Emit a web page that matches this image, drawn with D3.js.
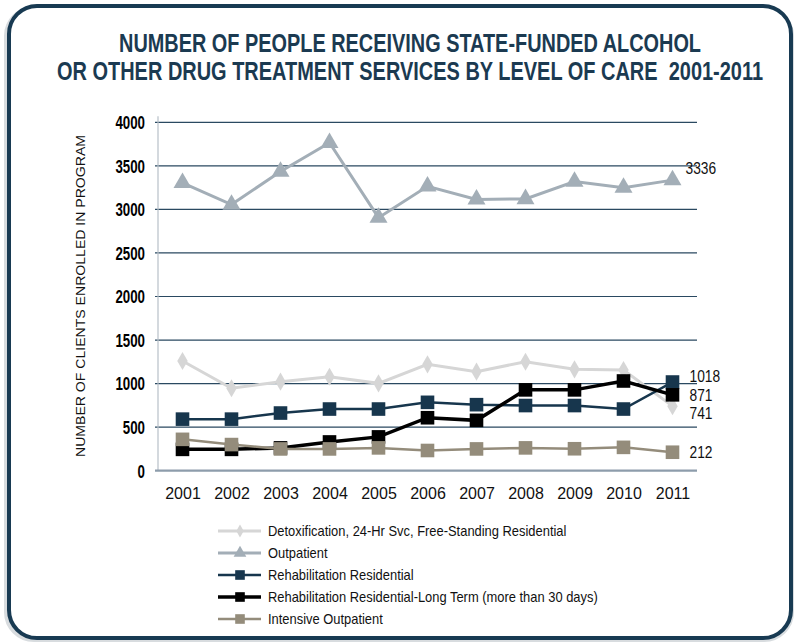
<!DOCTYPE html>
<html>
<head>
<meta charset="utf-8">
<script src="https://cdn.jsdelivr.net/npm/d3@7/dist/d3.min.js"></script>
<style>
  html, body { margin: 0; padding: 0; background: #ffffff; }
  svg { display: block; }
</style>
</head>
<body>
<svg id="chart" width="794" height="642"></svg>
<script>
// ---------------- DATA ----------------
const years = [2001, 2002, 2003, 2004, 2005, 2006, 2007, 2008, 2009, 2010, 2011];
const detox      = [1260, 946, 1022, 1079, 1003, 1221, 1137, 1251, 1164, 1156, 741];
const outpatient = [3305, 3055, 3435, 3765, 2905, 3265, 3115, 3120, 3320, 3250, 3336];
const rehabRes   = [592, 592, 662, 708, 708, 785, 758, 748, 748, 708, 1018];
const rehabLong  = [245, 245, 262, 330, 388, 608, 578, 928, 928, 1030, 871];
const intensive  = [360, 300, 250, 250, 262, 232, 250, 262, 252, 268, 212];
const yTicks = [0, 500, 1000, 1500, 2000, 2500, 3000, 3500, 4000];
const seriesNames = [
  "Detoxification, 24-Hr Svc, Free-Standing Residential",
  "Outpatient",
  "Rehabilitation Residential",
  "Rehabilitation Residential-Long Term (more than 30 days)",
  "Intensive Outpatient"
];
const titleLines = [
  "NUMBER OF PEOPLE RECEIVING STATE-FUNDED ALCOHOL",
  "OR OTHER DRUG TREATMENT SERVICES BY LEVEL OF CARE  2001-2011"
];
const yTitle = "NUMBER OF CLIENTS ENROLLED IN PROGRAM";

// ---------------- STYLE ----------------
const series = [
  { name: seriesNames[0], values: detox,      color: "#d6d6d6", width: 3,   symbol: d3.symbolDiamond,  size: 95,  label: 741,  dy: 13, dx: 17 },
  { name: seriesNames[1], values: outpatient, color: "#a3aeb7", width: 3,   symbol: d3.symbolTriangle, size: 140, label: 3336, dy: -6, dx: 13 },
  { name: seriesNames[2], values: rehabRes,   color: "#17364d", width: 2.5, symbol: d3.symbolSquare,   size: 185, label: 1018, dy: 0,  dx: 17 },
  { name: seriesNames[3], values: rehabLong,  color: "#000000", width: 3.5, symbol: d3.symbolSquare,   size: 185, label: 871,  dy: 6,  dx: 17 },
  { name: seriesNames[4], values: intensive,  color: "#948c7b", width: 2.5, symbol: d3.symbolSquare,   size: 185, label: 212,  dy: 6,  dx: 17 }
];

const svg = d3.select("#chart");
const FONT = "'Liberation Sans', Arial, sans-serif";

// narrow helper: compress text horizontally to emulate a condensed face
function narrow(sel, factor) {
  sel.each(function () {
    const w = this.getComputedTextLength();
    d3.select(this).attr("textLength", w * factor).attr("lengthAdjust", "spacingAndGlyphs");
  });
}

// ---------------- FRAME ----------------
svg.append("rect")
  .attr("x", 6).attr("y", 8).attr("width", 786).attr("height", 632)
  .attr("rx", 28).attr("ry", 28)
  .attr("fill", "none").attr("stroke", "#d8dcdf").attr("stroke-width", 4);
svg.append("rect")
  .attr("x", 9).attr("y", 6).attr("width", 782).attr("height", 632)
  .attr("rx", 28).attr("ry", 28)
  .attr("fill", "#ffffff").attr("stroke", "#183a52").attr("stroke-width", 4);

// ---------------- TITLE ----------------
const titleWidths = [582, 706];
const titleY = [52, 80];
titleLines.forEach((t, i) => {
  svg.append("text")
    .attr("transform", `translate(410,${titleY[i]}) scale(1,1.42)`)
    .attr("text-anchor", "middle")
    .style("white-space", "pre")
    .attr("font-family", FONT).attr("font-weight", "bold").attr("font-size", 18.5)
    .attr("fill", "#1b3a51")
    .attr("textLength", titleWidths[i]).attr("lengthAdjust", "spacingAndGlyphs")
    .text(t);
});

// ---------------- SCALES ----------------
const plot = { left: 158, right: 697, top: 122.3, bottom: 470.7 };
const x = d3.scalePoint().domain(years).range([plot.left, plot.right]).padding(0.5);
const y = d3.scaleLinear().domain([0, 4000]).range([plot.bottom, plot.top]);

// gridlines
svg.append("g")
  .selectAll("line")
  .data(yTicks.filter(d => d > 0))
  .join("line")
  .attr("x1", plot.left - 3).attr("x2", plot.right)
  .attr("y1", d => y(d)).attr("y2", d => y(d))
  .attr("stroke", "#2a4961").attr("stroke-width", 1.2);

// y axis line
svg.append("line")
  .attr("x1", plot.left).attr("x2", plot.left)
  .attr("y1", plot.top - 6).attr("y2", plot.bottom)
  .attr("stroke", "#b7c0c8").attr("stroke-width", 1.2);

// zero line
svg.append("line")
  .attr("x1", plot.left - 3).attr("x2", plot.right)
  .attr("y1", y(0)).attr("y2", y(0))
  .attr("stroke", "#8d9cab").attr("stroke-width", 2.2);

// y axis tick labels
const yAxis = d3.axisLeft(y).tickValues(yTicks).tickSize(0).tickPadding(13).tickFormat(d3.format("d"));
const yg = svg.append("g").attr("transform", `translate(${plot.left},0)`).call(yAxis);
yg.select(".domain").remove();
yg.selectAll("text")
  .attr("font-family", FONT).attr("font-weight", "bold").attr("font-size", 17.5)
  .attr("fill", "#000").attr("dy", "0.36em");
yg.selectAll("text").call(narrow, 0.76);

// x axis tick labels
const xAxis = d3.axisBottom(x).tickSize(0).tickPadding(17);
const xg = svg.append("g").attr("transform", `translate(0,${plot.bottom})`).call(xAxis);
xg.select(".domain").remove();
xg.selectAll("text")
  .attr("font-family", FONT).attr("font-size", 16).attr("fill", "#111");

// y title
svg.append("text")
  .attr("transform", `translate(85,296) rotate(-90)`)
  .attr("text-anchor", "middle")
  .attr("font-family", FONT).attr("font-size", 13).attr("fill", "#111")
  .attr("textLength", 322).attr("lengthAdjust", "spacingAndGlyphs")
  .text(yTitle);

// ---------------- SERIES ----------------
const line = d3.line().x((d, i) => x(years[i])).y(d => y(d));
series.forEach(s => {
  const g = svg.append("g");
  g.append("path")
    .attr("d", line(s.values))
    .attr("fill", "none").attr("stroke", s.color).attr("stroke-width", s.width)
    .attr("stroke-linejoin", "miter");
  g.selectAll("path.m")
    .data(s.values)
    .join("path").attr("class", "m")
    .attr("transform", (d, i) => `translate(${x(years[i])},${y(d)})`)
    .attr("d", d3.symbol().type(s.symbol).size(s.size))
    .attr("fill", s.color);
});

// end labels
series.forEach(s => {
  svg.append("text")
    .attr("x", x(years[years.length - 1]) + s.dx)
    .attr("y", y(s.label) + s.dy)
    .attr("font-family", FONT).attr("font-size", 16).attr("fill", "#111")
    .attr("transform", `translate(0,0)`)
    .text(d3.format("d")(s.label))
    .call(narrow, 0.86);
});

// ---------------- LEGEND ----------------
const legend = svg.append("g");
const lgX = 218, lgY = 531, lgStep = 22;
series.forEach((s, i) => {
  const yy = lgY + i * lgStep;
  legend.append("line")
    .attr("x1", lgX).attr("x2", lgX + 43)
    .attr("y1", yy).attr("y2", yy)
    .attr("stroke", s.color).attr("stroke-width", s.width);
  legend.append("path")
    .attr("transform", `translate(${lgX + 22},${yy})`)
    .attr("d", d3.symbol().type(s.symbol).size(s.size * 0.5))
    .attr("fill", s.color);
  legend.append("text")
    .attr("x", lgX + 50).attr("y", yy + 5)
    .attr("font-family", FONT).attr("font-size", 14.5).attr("fill", "#111")
    .text(s.name)
    .call(narrow, 0.89);
});
</script>
</body>
</html>
